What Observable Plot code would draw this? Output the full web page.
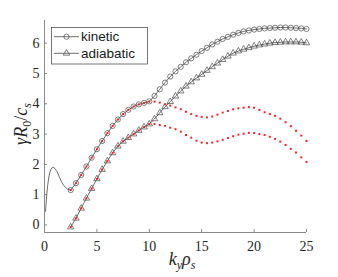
<!DOCTYPE html>
<html><head><meta charset="utf-8">
<script src="https://cdn.jsdelivr.net/npm/d3@7"></script>
<script src="https://cdn.jsdelivr.net/npm/@observablehq/plot@0.6"></script>
<style>body{margin:0;background:#fff} #chart{width:338px;height:277px}</style>
</head><body><div id="chart"></div>
<script>
// k_y rho_s sample points
const ky = [2.5,3,3.5,4,4.5,5,5.5,6,6.5,7,7.5,8,8.5,9,9.5,10,10.5,11,11.5,12,12.5,13,13.5,14,14.5,15,15.5,16,16.5,17,17.5,18,18.5,19,19.5,20,20.5,21,21.5,22,22.5,23,23.5,24,24.5,25];
const kinetic = [1.15,1.38,1.65,1.93,2.22,2.5,2.77,3.03,3.27,3.48,3.66,3.8,3.91,3.98,4.03,4.08,4.26,4.48,4.7,4.9,5.07,5.22,5.37,5.5,5.62,5.74,5.85,5.96,6.05,6.14,6.21,6.28,6.34,6.39,6.42,6.45,6.47,6.49,6.5,6.51,6.52,6.52,6.51,6.5,6.49,6.47];
const adiabatic = [-0.07,0.22,0.55,0.88,1.2,1.52,1.83,2.11,2.38,2.6,2.76,2.88,3.0,3.12,3.23,3.33,3.5,3.7,3.9,4.07,4.25,4.42,4.58,4.72,4.85,4.97,5.1,5.22,5.34,5.46,5.57,5.67,5.74,5.8,5.85,5.9,5.94,5.97,6.0,6.02,6.03,6.04,6.04,6.04,6.03,6.01];
const redUpper = [1.15,1.38,1.65,1.93,2.22,2.5,2.77,3.03,3.27,3.48,3.66,3.8,3.91,3.98,4.03,4.07,4.07,4.04,3.98,3.94,3.88,3.82,3.74,3.66,3.6,3.57,3.55,3.58,3.64,3.71,3.76,3.82,3.85,3.87,3.89,3.87,3.8,3.72,3.66,3.6,3.51,3.39,3.26,3.11,2.95,2.77];
const redLower = [-0.07,0.22,0.55,0.88,1.2,1.52,1.83,2.11,2.38,2.6,2.76,2.88,3.0,3.12,3.23,3.33,3.33,3.3,3.27,3.21,3.16,3.08,2.97,2.88,2.78,2.72,2.7,2.72,2.76,2.81,2.87,2.93,2.98,3.01,3.04,3.03,3.0,2.97,2.91,2.84,2.75,2.64,2.51,2.39,2.23,2.08];
// low-k kinetic branch (line only)
const lowK = [0.1,0.2,0.3,0.4,0.5,0.6,0.7,0.8,0.9,1.0,1.2,1.4,1.6,1.8,2.0,2.2,2.5];
const lowGamma = [0.45,0.95,1.3,1.55,1.72,1.83,1.88,1.9,1.89,1.86,1.76,1.6,1.44,1.32,1.24,1.18,1.15];
const xTicks = [0,5,10,15,20,25];
const yTicks = [0,1,2,3,4,5,6];
const xDomain = [0,25];
const yDomain = [-0.25,6.75];
const seriesNames = ["kinetic","adiabatic"];

const rows = ky.map((k,i)=>({k, kin:kinetic[i], adi:adiabatic[i], ru:redUpper[i], rl:redLower[i]}));
const kinLine = lowK.map((k,i)=>({k, g:lowGamma[i]})).concat(rows.slice(1).map(r=>({k:r.k, g:r.kin})));

const W=338, H=277, mL=44, mR=32, mT=20, mB=45;
const innerW=W-mL-mR, innerH=H-mT-mB;
const axisCol="#8a8a8a", lineCol="#4a4a4a";

const plot = Plot.plot({
  width:W, height:H, marginLeft:mL, marginRight:mR, marginTop:mT, marginBottom:mB,
  x:{domain:xDomain}, y:{domain:yDomain},
  style:{fontFamily:"'Liberation Serif', serif", fontSize:"14px", color:"#262626", background:"#fff", overflow:"visible"},
  marks:[
    Plot.ruleX([xDomain[0]], {stroke:axisCol}),
    Plot.ruleY([yDomain[0]], {stroke:axisCol}),
    Plot.tickX(xTicks, {x:d=>d, stroke:axisCol, insetTop:innerH-3}),
    Plot.tickY(yTicks, {y:d=>d, stroke:axisCol, insetRight:innerW-3}),
    Plot.axisX(xTicks, {tickSize:0, tickPadding:9, label:null, fill:"#262626"}),
    Plot.axisY(yTicks, {tickSize:0, tickPadding:5, label:null, fill:"#262626"}),
    Plot.line(kinLine, {x:"k", y:"g", stroke:lineCol, strokeWidth:0.8}),
    Plot.line(rows, {x:"k", y:"adi", stroke:lineCol, strokeWidth:0.8}),
    Plot.dot(rows, {x:"k", y:"kin", r:2.6, stroke:lineCol, strokeWidth:0.7, fill:"none"}),
    Plot.dot(rows, {x:"k", y:"adi", symbol:"triangle", r:2.4, stroke:lineCol, strokeWidth:0.7, fill:"none"}),
    Plot.dot(rows, {x:"k", y:"ru", symbol:"square", r:1.1, fill:"#ff1a1a", stroke:"none"}),
    Plot.dot(rows, {x:"k", y:"rl", symbol:"square", r:1.1, fill:"#ff1a1a", stroke:"none"})
  ]
});
document.getElementById("chart").appendChild(plot);

const svg = d3.select(plot);
// y label
const yl = svg.append("text").attr("transform","translate(27,124) rotate(-90)")
  .attr("text-anchor","middle").attr("font-family","'Liberation Serif', serif").attr("font-size",18).attr("fill","#262626");
yl.append("tspan").attr("font-style","italic").text("γR");
yl.append("tspan").attr("font-size",12).attr("dy",4).text("0");
yl.append("tspan").attr("dy",-4).text("/");
yl.append("tspan").attr("font-style","italic").text("c");
yl.append("tspan").attr("font-style","italic").attr("font-size",12).attr("dy",4).text("s");
// x label
const xl = svg.append("text").attr("x",182).attr("y",265)
  .attr("text-anchor","middle").attr("font-family","'Liberation Serif', serif").attr("font-size",18).attr("fill","#262626");
xl.append("tspan").attr("font-style","italic").text("k");
xl.append("tspan").attr("font-style","italic").attr("font-size",12).attr("dy",4).text("y");
xl.append("tspan").attr("font-style","italic").attr("dy",-4).text("ρ");
xl.append("tspan").attr("font-style","italic").attr("font-size",12).attr("dy",4).text("s");

// legend
const lg = svg.append("g").attr("text-anchor","start");
lg.append("rect").attr("x",51.5).attr("y",27.5).attr("width",96).attr("height",36.5).attr("fill","#fff").attr("stroke","#555").attr("stroke-width",0.8);
seriesNames.forEach((name,i)=>{
  const cy = 36.7 + i*16.6;
  lg.append("line").attr("x1",54).attr("x2",79).attr("y1",cy).attr("y2",cy).attr("stroke",lineCol).attr("stroke-width",0.8);
  if(i===0) lg.append("circle").attr("cx",66.5).attr("cy",cy).attr("r",2.6).attr("fill","none").attr("stroke",lineCol).attr("stroke-width",0.7);
  else lg.append("path").attr("transform",`translate(66.5,${cy})`).attr("d",d3.symbol(d3.symbolTriangle, 2.4*2.4*Math.PI)()).attr("fill","none").attr("stroke",lineCol).attr("stroke-width",0.7);
  lg.append("text").attr("x",81).attr("y",cy).attr("dy","0.35em").attr("text-anchor","start").attr("font-family","'Liberation Sans', Arial, sans-serif").attr("font-size",13.5).attr("fill","#1a1a1a").text(name);
});
</script>
</body></html>
